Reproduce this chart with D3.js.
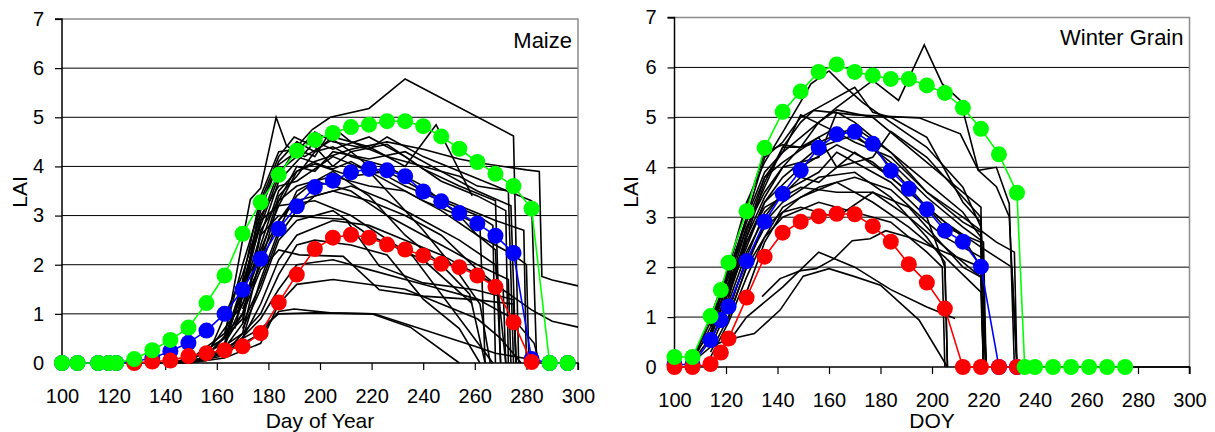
<!DOCTYPE html>
<html>
<head>
<meta charset="utf-8">
<script src="https://cdn.jsdelivr.net/npm/d3@7"></script>
<style>
  body { margin: 0; background: #fff; }
  text { font-family: "Liberation Sans", Arial, sans-serif; fill: #000; }
</style>
</head>
<body>
<svg id="chart" width="1215" height="432"></svg>
<script>
// ---- Maize: sampling days and envelope series (max / mean / min LAI) ----
const maizeDays = [100, 106, 114, 118, 121, 128, 135, 142, 149, 156, 163, 170, 177, 184, 191, 198, 205, 212, 219, 226, 233, 240, 247, 254, 261, 268, 275, 282, 289, 296];
const maizeMax  = [0, 0, 0, 0, 0, 0.08, 0.26, 0.47, 0.72, 1.22, 1.78, 2.63, 3.27, 3.83, 4.32, 4.54, 4.68, 4.80, 4.85, 4.92, 4.92, 4.82, 4.61, 4.36, 4.09, 3.85, 3.60, 3.14, 0, 0];
const maizeMean = [0, 0, 0, 0, 0, 0.03, 0.10, 0.24, 0.41, 0.66, 1.00, 1.49, 2.12, 2.73, 3.19, 3.58, 3.71, 3.88, 3.95, 3.92, 3.80, 3.49, 3.29, 3.05, 2.84, 2.59, 2.24, 0.08, 0, 0];
const maizeMin  = [null, null, null, null, null, 0, 0.03, 0.05, 0.14, 0.20, 0.26, 0.34, 0.61, 1.23, 1.80, 2.32, 2.55, 2.61, 2.55, 2.41, 2.31, 2.19, 2.02, 1.95, 1.78, 1.55, 0.83, 0.02, null, null];

// ---- Maize: individual field trajectories [DOY, LAI] ----
const maizeFields = [
  [[135,0],[149,0],[163,0.3],[170,1.6],[177,2.8],[184,3.8],[191,4.4],[197,4.75],[204,5.0],[219,5.18],[233,5.78],[275,4.62],[277,0]],
  [[142,0],[149,0.05],[163,0.5],[170,2.5],[173,3.33],[177,3.56],[183,5.0],[187,4.42],[194,4.2],[205,4.55],[212,4.3],[226,4.45],[240,3.95],[254,3.6],[268,3.3],[270,0]],
  [[142,0],[156,0.1],[170,1.0],[177,2.4],[184,3.5],[191,3.9],[198,4.1],[212,4.35],[226,4.5],[240,4.35],[254,4.15],[262,4.07],[280,3.93],[285,3.9],[286,1.76],[290,1.69],[300,1.57]],
  [[142,0],[156,0.2],[170,1.2],[177,2.0],[184,2.9],[191,3.3],[205,3.5],[219,3.3],[233,3.0],[247,2.6],[261,1.9],[268,1.6],[282,1.08],[290,0.85],[300,0.73]],
  [[149,0],[163,0.2],[177,0.6],[184,1.05],[190,1.1],[204,1.02],[220,1.0],[235,0.73],[254,0]],
  [[149,0],[163,0.3],[177,0.7],[184,1.0],[198,1.02],[221,1.0],[260,0.34],[268,0.2],[282,0.07]],
  [[149,0.05],[163,0.4],[170,1.0],[177,1.9],[184,2.3],[192,2.2],[209,2.17],[223,1.49],[240,1.36],[260,1.29],[275,1.2],[276,0]],
  [[149,0.05],[163,0.5],[170,1.4],[177,2.6],[184,3.0],[192,2.98],[210,2.92],[223,1.97],[240,1.63],[260,1.49],[275,1.29],[276,0]],
  [[156,0.1],[170,0.6],[177,2.2],[184,3.4],[191,3.8],[198,4.3],[205,4.4],[212,4.2],[226,4.0],[240,3.6],[254,3.0],[261,2.6],[268,2.3],[270,0]],
  [[156,0.15],[170,0.9],[177,2.6],[184,3.7],[191,4.1],[198,4.5],[205,4.35],[219,4.6],[233,4.2],[247,3.7],[261,3.4],[272,3.1],[273,0]],
  [[167,0.7],[177,2.9],[184,3.9],[191,4.2],[205,3.95],[212,4.1],[226,3.7],[240,3.3],[254,3.0],[262,2.8],[264,0]],
  [[168,1.0],[177,3.1],[184,4.1],[191,4.5],[198,4.3],[205,4.6],[219,4.4],[233,4.0],[245,4.85],[259,3.4]],
  [[149,0],[163,0.3],[170,0.8],[177,1.6],[184,2.6],[191,3.1],[198,3.4],[212,3.6],[226,3.3],[240,2.9],[254,2.5],[268,2.0],[272,0]],
  [[142,0],[156,0.05],[170,0.5],[177,1.2],[184,2.1],[191,2.6],[205,2.9],[219,2.8],[233,2.5],[247,2.2],[261,1.8],[271,1.5],[272,0]],
  [[170,1.3],[177,3.3],[184,4.2],[190,4.6],[198,4.4],[205,4.0],[212,4.3],[219,4.0],[233,3.6],[247,3.3],[261,3.0],[267,2.8],[268,0]],
  [[142,0],[156,0.1],[170,1.8],[177,3.0],[184,3.6],[191,3.7],[205,4.2],[219,3.9],[226,3.5],[240,2.7],[254,1.8],[262,1.2],[266,0]],
  [[149,0.05],[163,0.4],[170,1.5],[177,2.3],[184,3.2],[198,3.3],[212,3.0],[236,2.17],[267,0]],
  [[170,0.7],[177,1.5],[184,2.5],[191,2.9],[205,3.1],[219,2.6],[240,2.1],[259,1.21]],
  [[149,0],[163,0.2],[177,1.0],[184,1.8],[191,2.4],[198,2.5],[212,2.4],[226,2.2],[240,1.3],[254,0.7],[262,0]],
  [[170,1.1],[177,2.0],[184,3.3],[191,4.0],[198,3.9],[205,4.3],[219,4.15],[233,4.3],[247,3.9],[261,3.5],[274,3.2],[276,0]],
  [[170,0.8],[177,2.7],[184,3.3],[191,3.6],[205,3.8],[219,3.6],[233,3.5],[247,3.1],[261,2.6],[275,2.2],[280,2.0],[281,0]],
  [[149,0.05],[163,0.6],[170,2.0],[177,3.2],[183,4.0],[191,4.3],[198,4.7],[205,4.5],[219,4.35],[226,4.6],[240,4.2],[254,3.9],[268,3.6],[282,3.3],[284,0]],
  [[163,0.5],[170,1.6],[177,2.9],[184,3.2],[191,3.9],[198,4.05],[212,3.8],[226,3.9],[240,3.5],[254,3.2],[268,2.9],[279,2.7],[280,0]],
  [[149,0],[163,0.15],[177,0.9],[184,1.5],[191,2.0],[205,2.1],[219,1.9],[233,1.7],[247,1.5],[261,1.3],[275,0.9],[283,0.4],[285,0]],
  [[163,0.4],[170,1.2],[177,2.2],[184,2.9],[191,3.4],[198,3.7],[212,3.5],[226,3.0],[247,2.4],[261,2.0],[273,1.7],[274,0]],
  [[168,1.2],[177,3.4],[184,4.3],[191,4.35],[198,4.2],[205,4.8],[212,4.5],[226,4.2],[240,4.0],[254,3.8],[261,3.6],[273,3.5],[275,0]],
  [[149,0],[163,0.1],[177,0.4],[184,1.2],[191,1.6],[205,1.7],[233,1.5],[261,0.9],[270,0.5],[278,0]],
  [[156,0.1],[170,0.5],[177,1.7],[184,2.7],[191,3.5],[205,3.9],[219,3.4],[233,2.6],[247,2.0],[258,1.4],[264,0]]
];

// ---- Winter grain: sampling days and envelope series ----
const grainDays = [100, 107, 114, 118, 121, 128, 135, 142, 149, 156, 163, 170, 177, 184, 191, 198, 205, 212, 219, 226, 233, 236, 240, 247, 254, 261, 268, 275];
const grainMax  = [0.20, 0.20, 1.02, 1.54, 2.09, 3.12, 4.39, 5.11, 5.52, 5.91, 6.06, 5.91, 5.84, 5.77, 5.77, 5.64, 5.49, 5.19, 4.77, 4.26, 3.49, 0, 0, 0, 0, 0, 0, 0];
const grainMean = [0.05, 0.05, 0.54, 0.94, 1.21, 2.12, 2.91, 3.47, 3.94, 4.39, 4.66, 4.71, 4.47, 3.93, 3.57, 3.16, 2.73, 2.51, 2.01, 0, 0, null, null, null, null, null, null, null];
const grainMin  = [0, 0, 0.06, 0.29, 0.57, 1.39, 2.21, 2.69, 2.91, 3.02, 3.07, 3.06, 2.82, 2.51, 2.06, 1.69, 1.17, 0, 0, 0, 0, null, null, null, null, null, null, null];

// ---- Winter grain: individual field trajectories [DOY, LAI] ----
const grainFields = [
  [[107,0.1],[114,0.8],[121,1.9],[128,2.9],[135,3.8],[142,4.3],[149,4.6],[163,5.2],[177,5.74],[187,5.34],[197,6.45],[204,5.67],[211,5.34],[218,3.94],[225,3.61],[230,3.01],[233,0],[300,0]],
  [[107,0.15],[114,1.0],[121,2.0],[128,3.3],[135,4.1],[142,4.7],[149,5.31],[153,5.67],[160,5.93],[166,5.62],[173,5.3],[184,4.9],[198,4.4],[212,3.6],[219,2.8],[220,0]],
  [[114,0.7],[121,1.5],[128,2.6],[135,3.7],[142,4.4],[149,4.9],[154,5.14],[170,5.05],[195,4.99],[211,4.67],[218,3.94],[225,4.0],[230,3.27],[232,0]],
  [[114,0.4],[120,0.54],[131,0.67],[141,1.14],[150,1.82],[160,1.97],[170,1.81],[180,1.64],[195,0.94],[206,0]],
  [[134,1.41],[141,1.77],[149,1.93],[155,1.97],[162,2.17],[169,2.53],[176,2.57],[182,2.73],[191,2.6],[205,2.3],[219,2.0],[220,0]],
  [[121,0.5],[128,1.0],[142,1.6],[156,2.3],[170,2.0],[184,1.55],[198,1.2],[209,0.97]],
  [[107,0.1],[114,0.6],[121,1.6],[128,2.6],[135,3.4],[142,4.0],[149,4.4],[156,4.5],[170,4.8],[184,4.3],[198,3.5],[212,2.9],[219,2.7],[221,0]],
  [[114,0.5],[121,1.3],[128,2.3],[135,3.0],[142,3.5],[156,3.9],[163,4.3],[170,4.1],[184,3.7],[198,3.0],[205,2.0],[206,0]],
  [[114,0.9],[121,1.8],[128,2.8],[135,3.6],[142,4.4],[149,4.4],[156,4.9],[163,5.15],[177,5.0],[191,4.4],[205,3.8],[219,3.2],[220,0]],
  [[107,0.2],[114,0.7],[121,1.7],[128,2.5],[135,3.2],[149,3.6],[163,3.5],[177,3.5],[191,3.2],[205,2.4],[219,1.8],[221,0]],
  [[114,0.3],[121,1.0],[128,2.0],[135,2.9],[142,3.3],[156,3.8],[170,3.9],[184,3.4],[198,2.6],[205,2.1],[206,0]],
  [[114,0.8],[121,1.7],[128,3.0],[135,4.2],[142,4.5],[149,5.0],[156,5.2],[170,5.6],[177,5.1],[184,5.0],[198,4.6],[212,3.3],[219,2.9],[220,0]],
  [[121,1.4],[128,2.7],[135,3.8],[142,4.1],[156,4.6],[163,4.0],[177,4.2],[184,4.72],[198,4.2],[212,3.4],[219,3.0],[221,0]],
  [[107,0.1],[114,0.4],[121,1.2],[128,2.1],[135,2.8],[149,3.4],[163,3.7],[177,3.3],[191,2.8],[205,2.2],[219,1.5],[220,0]],
  [[114,0.6],[121,1.5],[128,2.4],[135,3.3],[149,4.0],[163,4.45],[177,4.1],[191,3.5],[205,2.9],[219,2.4],[231,2.0],[233,0]],
  [[121,1.1],[128,2.2],[135,3.1],[149,3.8],[156,3.7],[170,4.3],[184,3.8],[198,3.2],[212,2.6],[219,2.0],[220,0]],
  [[114,0.2],[121,0.9],[128,1.8],[135,2.6],[142,3.0],[156,3.3],[170,3.1],[184,2.9],[198,2.3],[204,2.0],[205,0]],
  [[107,0.15],[114,0.9],[121,2.0],[128,3.2],[135,4.3],[142,4.45],[149,4.4],[163,4.8],[177,4.4],[191,3.6],[205,2.8],[219,2.5],[221,0]],
  [[121,1.6],[128,2.8],[135,3.5],[142,4.0],[156,4.2],[163,5.1],[170,4.9],[177,4.6],[191,4.0],[198,3.7],[212,3.1],[219,2.6],[220,0]],
  [[128,1.5],[135,2.5],[142,3.1],[149,3.2],[163,3.0],[177,3.5],[191,3.0],[205,2.4],[212,2.0],[219,1.8],[221,0]],
  [[114,0.5],[121,1.4],[128,2.5],[135,3.3],[142,3.8],[156,4.4],[170,4.65],[184,4.1],[198,3.4],[212,2.8],[220,2.5],[221,0]],
  [[121,1.0],[128,2.0],[135,2.6],[142,3.2],[156,3.6],[170,3.8],[184,3.55],[198,2.9],[205,2.6],[219,2.2],[220,0]],
  [[114,0.8],[121,1.9],[128,3.0],[135,3.9],[142,4.3],[149,5.05],[163,4.7],[170,4.5],[184,4.2],[198,3.5],[212,3.0],[225,2.5],[232,2.3],[233,0]]
];

// ---- Axis ticks ----
const xTicks = [100, 120, 140, 160, 180, 200, 220, 240, 260, 280, 300];
const yTicks = [0, 1, 2, 3, 4, 5, 6, 7];

const svg = d3.select("#chart");

function drawPanel(cfg) {
  const x = d3.scaleLinear().domain([100, 300]).range([cfg.left, cfg.right]);
  const y = d3.scaleLinear().domain([0, 7]).range([cfg.bottom, cfg.top]);
  const g = svg.append("g");

  // horizontal gridlines
  g.selectAll("line.grid").data(yTicks.filter(v => v > 0 && v < 7)).join("line")
    .attr("x1", cfg.left).attr("x2", cfg.right)
    .attr("y1", d => y(d)).attr("y2", d => y(d))
    .attr("stroke", "#000").attr("stroke-width", 1);

  // plot frame (top and right in grey)
  g.append("path")
    .attr("d", `M${cfg.left},${y(7)}H${cfg.right}V${cfg.bottom}`)
    .attr("fill", "none").attr("stroke", "#8c8c8c").attr("stroke-width", 1.5);

  // field trajectories
  const fieldLine = d3.line().x(d => x(d[0])).y(d => y(d[1]));
  g.selectAll("path.field").data(cfg.fields).join("path")
    .attr("d", fieldLine)
    .attr("fill", "none").attr("stroke", "#000").attr("stroke-width", 1.6)
    .attr("stroke-linejoin", "miter");

  // axes
  const yAxis = d3.axisLeft(y).tickValues(yTicks).tickSize(7).tickPadding(11).tickFormat(d3.format("d"));
  const xAxis = d3.axisBottom(x).tickValues(xTicks).tickSize(7).tickPadding(19).tickFormat(d3.format("d"));
  const ya = g.append("g").attr("transform", `translate(${cfg.left},0)`).call(yAxis);
  const xa = g.append("g").attr("transform", `translate(0,${cfg.bottom})`).call(xAxis);
  [ya, xa].forEach(a => {
    a.select(".domain").attr("stroke", "#000").attr("stroke-width", 1.5);
    a.selectAll(".tick line").attr("stroke", "#000").attr("stroke-width", 1.2);
    a.selectAll(".tick text").attr("font-size", 20).attr("font-family", "Liberation Sans, Arial, sans-serif").attr("fill", "#000");
  });
  ya.select(".domain").attr("d", `M-7,${cfg.bottom}H0V${y(7)}H-7`);
  xa.select(".domain").attr("d", `M${cfg.left},7V0H${cfg.right}V7`);

  // envelope series: mean, min, max
  const series = [
    { vals: cfg.mean, color: "#0000ff" },
    { vals: cfg.min, color: "#ff0000" },
    { vals: cfg.max, color: "#00ff00" }
  ];
  series.forEach(s => {
    const pts = cfg.days.map((d, i) => [d, s.vals[i]]).filter(p => p[1] !== null);
    g.append("path")
      .attr("d", d3.line().x(d => x(d[0])).y(d => y(d[1]))(pts))
      .attr("fill", "none").attr("stroke", s.color).attr("stroke-width", 1.6);
    g.selectAll(null).data(pts).join("circle")
      .attr("cx", d => x(d[0])).attr("cy", d => y(d[1])).attr("r", 8)
      .attr("fill", s.color);
  });

  // labels
  g.append("text").attr("x", cfg.right - 6).attr("y", cfg.titleY)
    .attr("text-anchor", "end").attr("font-size", 22).text(cfg.title);
  g.append("text").attr("x", cfg.xLabelX).attr("y", 428)
    .attr("text-anchor", "middle").attr("font-size", 21).text(cfg.xLabel);
  g.append("text").attr("transform", `translate(${cfg.yLabelX},192) rotate(-90)`)
    .attr("text-anchor", "middle").attr("font-size", 21).text("LAI");
}

drawPanel({
  left: 62, right: 578, top: 19, bottom: 363,
  days: maizeDays, max: maizeMax, mean: maizeMean, min: maizeMin,
  fields: maizeFields, title: "Maize", titleY: 48,
  xLabel: "Day of Year", xLabelX: 320, yLabelX: 27
});

drawPanel({
  left: 674.5, right: 1189.5, top: 17.5, bottom: 367,
  days: grainDays, max: grainMax, mean: grainMean, min: grainMin,
  fields: grainFields, title: "Winter Grain", titleY: 45,
  xLabel: "DOY", xLabelX: 932, yLabelX: 638
});
</script>
</body>
</html>
